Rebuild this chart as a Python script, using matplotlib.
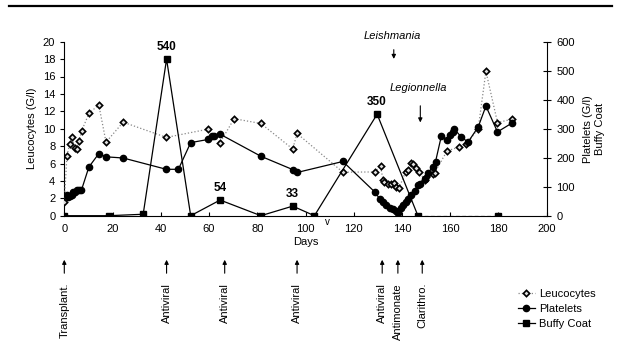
import matplotlib
matplotlib.use("Agg")
import matplotlib.pyplot as plt
from matplotlib.lines import Line2D

plt.rcParams['font.family'] = ['Liberation Sans', 'DejaVu Sans']
plt.rcParams['font.size'] = 8

# Leucocytes (G/l), left axis
leu_days = [0, 1.1, 2.2, 3.2, 4.3, 5.3, 6.2, 7.2, 10.2, 14.3, 17.3, 24.4, 42.3,
            59.7, 64.6, 70.4, 81.5, 94.7, 96.5, 115.5, 128.7, 131.1, 132.1, 132.7,
            134.2, 135.6, 136.5, 137.6, 138.7, 141.5, 142.5, 143.6, 144.5, 145.9,
            147.0, 149.4, 150.0, 152.8, 153.5, 158.7, 163.8, 166.6, 171.6, 174.8,
            179.6, 185.7]
leu_vals = [1.6, 6.9, 8.2, 9.0, 7.8, 7.65, 8.55, 9.75, 11.75, 12.75, 8.45, 10.75, 9.0,
            9.95, 8.4, 11.15, 10.6, 7.67, 9.45, 5.0, 5.03, 5.72, 4.16, 3.89,
            3.70, 3.62, 3.77, 3.31, 3.13, 5.03, 5.23, 6.07, 5.92, 5.43,
            5.03, 4.16, 4.5, 4.74, 4.93, 7.45, 7.9, 8.2, 10.0, 16.6,
            10.7, 11.1]

# Platelets (G/l), right axis
plt_days = [1.0, 1.7, 2.4, 3.1, 3.7, 4.4, 5.1, 6.1, 7.1, 10.2, 14.3, 17.3, 24.4,
            42.3, 47.3, 52.4, 59.7, 61.3, 62.0, 64.6, 81.5, 94.7, 96.5, 115.5,
            128.7, 130.7, 132.1, 133.5, 134.9, 136.2, 137.6, 138.5, 139.7, 140.4,
            141.5, 142.5, 143.9, 145.2, 146.6, 147.3, 149.4, 150.7, 152.8, 153.9,
            156.3, 158.6, 160.0, 161.1, 161.6, 164.6, 167.4, 171.6, 174.8, 179.6, 185.7]
plt_vals = [71, 65, 68, 71, 82, 82, 87, 87, 88, 168, 214, 203, 199,
            160, 160, 252, 263, 274, 274, 281, 205, 159, 149, 187,
            82, 59, 48, 36, 28, 22, 15, 8, 28, 36,
            48, 59, 71, 86, 105, 110, 128, 146, 169, 186,
            274, 260, 278, 289, 300, 271, 254, 306, 378, 289, 320]

# Buffy coat, right axis
buf_days = [0, 18.4, 32.7, 42.4, 52.4, 64.6, 81.5, 94.7, 103.7, 129.7, 146.6]
buf_vals = [0, 0, 5, 540, 0, 54, 0, 33, 0, 350, 0]
buf_tail_days = [146.6, 180]
buf_tail_vals = [0, 0]
buf_labels = [(42.4, 540, "540"), (64.6, 54, "54"), (94.7, 33, "33"), (129.7, 350, "350")]

# Treatment events below the axis
event_days = [0, 42.4, 66.5, 96.5, 131.8, 138.3, 148.4]
event_names = ["Transplant.", "Antiviral", "Antiviral", "Antiviral",
               "Antiviral", "Antimonate", "Clarithro."]

W, H = 617, 345
fig = plt.figure(figsize=(W / 100, H / 100), dpi=100)
ax = fig.add_axes([64.3 / W, 1 - 215.7 / H, (546.7 - 64.3) / W, (215.7 - 41.7) / H])
ax2 = ax.twinx()

leu_style = dict(ls=':', color='#888888', lw=0.9, marker='D', ms=3.2,
                 mfc='#dddddd', mec='black', mew=1.2)
ax.plot(leu_days, leu_vals, zorder=3, **leu_style)
ax2.plot(plt_days, plt_vals, '-', color='black', lw=0.9, marker='o', ms=4.5, zorder=3)
ax2.plot(buf_days, buf_vals, '-', color='black', lw=0.9, marker='s', ms=4.5, zorder=3)
ax2.plot(buf_tail_days, buf_tail_vals, '--', color='#555555', lw=0.9, dashes=(3, 2))
ax2.plot(buf_tail_days[-1:], buf_tail_vals[-1:], 's', color='black', ms=4.5)

for d, v, t in buf_labels:
    ax2.text(d, v + 22, t, ha='center', va='bottom', fontweight='bold', fontsize=8.5)

ax.set_xlim(0, 200)
ax.set_ylim(0, 20)
ax2.set_ylim(0, 600)
ax.set_xticks(range(0, 201, 20))
ax.set_yticks(range(0, 21, 2))
ax2.set_yticks(range(0, 601, 100))
ax.tick_params(axis='x', direction='in', length=3, pad=6)
ax.tick_params(axis='y', direction='out', length=3)
ax2.tick_params(axis='y', direction='inout', length=6, pad=4)
for a in (ax, ax2):
    a.spines['top'].set_visible(False)
    for s in a.spines.values():
        s.set_linewidth(0.8)
ax.spines['right'].set_visible(False)
ax2.spines['left'].set_visible(False)
ax2.spines['bottom'].set_visible(False)

ax.set_xlabel("Days", labelpad=2)
ax.set_ylabel("Leucocytes (G/l)", labelpad=4)
ax2.set_ylabel("Platelets (G/l)\nBuffy Coat", labelpad=6)

# pathogen markers
arrow = dict(arrowstyle='-|>', color='black', lw=0.8, mutation_scale=6)
ax.annotate("", xy=(136.6, 17.7), xytext=(136.6, 19.4), arrowprops=arrow,
            annotation_clip=False)
ax.text(136.0, 20.65, "Leishmania", style='italic', ha='center', va='center')
ax.annotate("", xy=(147.6, 10.4), xytext=(147.6, 12.95), arrowprops=arrow,
            annotation_clip=False)
ax.text(147.0, 14.7, "Legionnella", style='italic', ha='center', va='center')
ax.text(109.2, -0.2, "v", ha='center', va='top', fontsize=7)

# event arrows below the chart
for d, name in zip(event_days, event_names):
    ax.annotate("", xy=(d, 1 - 257 / H), xytext=(d, 1 - 276 / H),
                xycoords=('data', 'figure fraction'),
                textcoords=('data', 'figure fraction'),
                arrowprops=arrow, annotation_clip=False)
    ax.annotate(name, xy=(d, 1 - 283 / H), xycoords=('data', 'figure fraction'),
                rotation=90, ha='center', va='top', annotation_clip=False)

# top rule
fig.add_artist(Line2D([9 / W, 612 / W], [1 - 6 / H, 1 - 6 / H], color='black', lw=1.6))

handles = [
    Line2D([], [], **leu_style),
    Line2D([], [], ls='-', color='black', lw=0.9, marker='o', ms=4.5),
    Line2D([], [], ls='-', color='black', lw=0.9, marker='s', ms=4.5),
]
fig.legend(handles, ["Leucocytes", "Platelets", "Buffy Coat"], loc='upper left',
           bbox_to_anchor=(512 / W, 1 - 283 / H), frameon=False, handlelength=1.6,
           handletextpad=0.3, labelspacing=0.45, borderpad=0, fontsize=8)

fig.savefig("out.png", dpi=100)
